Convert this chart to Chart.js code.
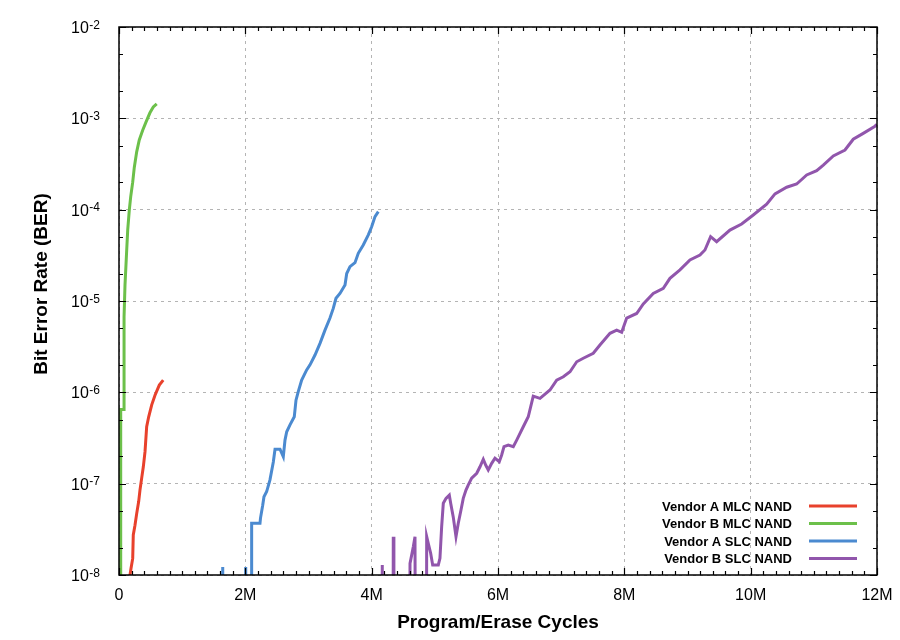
<!DOCTYPE html>
<html>
<head>
<meta charset="utf-8">
<script src="https://cdn.jsdelivr.net/npm/chart.js@4.4.0/dist/chart.umd.min.js"></script>
<style>
  html, body { margin: 0; padding: 0; background: #fff; }
</style>
</head>
<body>
<canvas id="grafico" width="900" height="640"></canvas>
<script>
const seriesNames = ['Vendor A MLC NAND', 'Vendor B MLC NAND', 'Vendor A SLC NAND', 'Vendor B SLC NAND'];
const seriesColors = ['#e8412c', '#6cc04a', '#4b8ad0', '#9156ac'];

// x = P/E cycles in millions, y = BER; 1e-12 means below the plotted range
const mlcAX = [0.17, 0.174, 0.19, 0.217, 0.226, 0.253, 0.28, 0.312, 0.332, 0.359, 0.385, 0.412, 0.438, 0.47, 0.518, 0.57, 0.638, 0.70];
const mlcAY = [1e-12, 1.0e-8, 1.18e-8, 1.52e-8, 2.74e-8, 3.5e-8, 4.7e-8, 6.4e-8, 8.5e-8, 1.15e-7, 1.53e-7, 2.24e-7, 4.2e-7, 5.4e-7, 7.3e-7, 9.3e-7, 1.2e-6, 1.36e-6];

const mlcBX = [0.027, 0.027, 0.08, 0.08, 0.095, 0.12, 0.138, 0.163, 0.185, 0.217, 0.242, 0.28, 0.321, 0.375, 0.427, 0.49, 0.543, 0.597];
const mlcBY = [1e-12, 6.5e-7, 6.5e-7, 6.7e-6, 1.5e-5, 3.4e-5, 6e-5, 9.9e-5, 1.38e-4, 2.0e-4, 2.9e-4, 4.3e-4, 5.8e-4, 7.4e-4, 9.1e-4, 1.15e-3, 1.33e-3, 1.44e-3];

const slcAX = [1.63, 1.642, 1.655, 1.995, 2.006, 2.018, 2.095, 2.10, 2.232, 2.24, 2.275, 2.295, 2.338, 2.39, 2.443, 2.47,
  2.549, 2.601, 2.628, 2.655, 2.707, 2.775, 2.802, 2.838, 2.892, 2.971, 3.024, 3.103, 3.182, 3.261, 3.34,
  3.392, 3.435, 3.498, 3.578, 3.605, 3.657, 3.736, 3.788, 3.867, 3.947, 4.0, 4.053, 4.105];
const slcAY = [1e-12, 1.22e-8, 1e-12, 1e-12, 1.22e-8, 1e-12, 1e-12, 3.68e-8, 3.68e-8, 4.2e-8, 5.8e-8, 7.2e-8, 8.2e-8, 1.1e-7, 1.73e-7, 2.38e-7,
  2.38e-7, 1.97e-7, 3.0e-7, 3.7e-7, 4.4e-7, 5.4e-7, 8.2e-7, 1.02e-6, 1.36e-6, 1.76e-6, 2.0e-6, 2.56e-6, 3.44e-6, 4.8e-6, 6.5e-6,
  8.3e-6, 1.07e-5, 1.21e-5, 1.5e-5, 2.0e-5, 2.38e-5, 2.63e-5, 3.33e-5, 4.1e-5, 5.3e-5, 6.5e-5, 8.4e-5, 9.5e-5];

const slcBX = [4.155, 4.168, 4.18, 4.332, 4.342, 4.352, 4.595, 4.607, 4.634, 4.659,
  4.686, 4.702, 4.86, 4.871, 4.896, 4.934, 4.966, 5.055, 5.081, 5.108,
  5.134, 5.177, 5.229, 5.251, 5.292, 5.335, 5.371, 5.414, 5.45, 5.493,
  5.53, 5.583, 5.663, 5.715, 5.767, 5.805, 5.846, 5.9, 5.952, 6.02,
  6.058, 6.095, 6.163, 6.242, 6.296, 6.4, 6.479, 6.558, 6.665, 6.823,
  6.929, 7.034, 7.14, 7.246, 7.35, 7.508, 7.614, 7.773, 7.879, 7.958,
  8.037, 8.195, 8.3, 8.458, 8.617, 8.722, 8.881, 9.039, 9.197, 9.276,
  9.366, 9.461, 9.672, 9.857, 10.041, 10.253, 10.385, 10.57, 10.728, 10.887,
  11.045, 11.15, 11.308, 11.493, 11.624, 11.782, 11.968, 12.0];
const slcBY = [1e-12, 1.29e-8, 1e-12, 1e-12, 2.63e-8, 1e-12, 1e-12, 1.34e-8, 1.66e-8, 2.04e-8,
  2.63e-8, 1e-12, 1e-12, 2.63e-8, 2.22e-8, 1.73e-8, 1.29e-8, 1.29e-8, 1.52e-8, 3.38e-8,
  6.1e-8, 6.9e-8, 7.5e-8, 6.1e-8, 4.3e-8, 2.63e-8, 3.68e-8, 5.15e-8, 6.9e-8, 8.5e-8,
  9.7e-8, 1.15e-7, 1.3e-7, 1.53e-7, 1.85e-7, 1.6e-7, 1.41e-7, 1.67e-7, 1.9e-7, 1.74e-7,
  2.06e-7, 2.54e-7, 2.65e-7, 2.54e-7, 3.0e-7, 4.2e-7, 5.4e-7, 9.1e-7, 8.6e-7, 1.06e-6,
  1.36e-6, 1.48e-6, 1.68e-6, 2.16e-6, 2.36e-6, 2.68e-6, 3.3e-6, 4.43e-6, 4.8e-6, 4.54e-6,
  6.5e-6, 7.3e-6, 9.3e-6, 1.21e-5, 1.38e-5, 1.77e-5, 2.19e-5, 2.81e-5, 3.19e-5, 3.62e-5,
  5.06e-5, 4.46e-5, 5.98e-5, 6.97e-5, 8.75e-5, 1.15e-4, 1.49e-4, 1.76e-4, 1.91e-4, 2.4e-4,
  2.67e-4, 3.08e-4, 3.87e-4, 4.5e-4, 5.9e-4, 6.85e-4, 8.2e-4, 8.6e-4];

const xTickValues = [0, 2, 4, 6, 8, 10, 12];
const xTickLabels = ['0', '2M', '4M', '6M', '8M', '10M', '12M'];
const yTickValues = [1e-8, 1e-7, 1e-6, 1e-5, 1e-4, 1e-3, 1e-2];
const yTickBase = '10';
const yTickExps = ['-8', '-7', '-6', '-5', '-4', '-3', '-2'];
const xMinorStep = 0.2;
const yMinorMult = [2, 5];
const yTitle = 'Bit Error Rate (BER)';

const FONT = "'Liberation Sans', Arial, sans-serif";

function toPoints(xs, ys) {
  return xs.map((x, i) => ({ x: x, y: ys[i] }));
}

// gnuplot style frame with inward ticks on all four sides, 10^n labels, y title and the legend inside the plot
const frameAndLegend = {
  id: 'frameAndLegend',
  afterDatasetsDraw(chart) {
    const ctx = chart.ctx;
    const area = chart.chartArea;
    const xs = chart.scales.x;
    const ys = chart.scales.y;
    ctx.save();
    ctx.strokeStyle = '#000';
    ctx.lineWidth = 1.2;
    ctx.beginPath();
    for (let v = 0; v <= 12.0001; v += xMinorStep) {
      const px = Math.round(xs.getPixelForValue(v)) + 0.5;
      const major = Math.abs(v / 2 - Math.round(v / 2)) < 1e-6;
      const len = major ? 7 : 4;
      ctx.moveTo(px, area.bottom); ctx.lineTo(px, area.bottom - len);
      ctx.moveTo(px, area.top); ctx.lineTo(px, area.top + len);
    }
    yTickValues.forEach((v, i) => {
      const marks = [{ val: v, len: 7 }];
      if (i < yTickValues.length - 1) yMinorMult.forEach(m => marks.push({ val: v * m, len: 4 }));
      marks.forEach(t => {
        const py = Math.round(ys.getPixelForValue(t.val)) + 0.5;
        ctx.moveTo(area.left, py); ctx.lineTo(area.left + t.len, py);
        ctx.moveTo(area.right, py); ctx.lineTo(area.right - t.len, py);
      });
    });
    ctx.stroke();
    ctx.lineWidth = 1.5;
    ctx.strokeRect(area.left, area.top, area.right - area.left, area.bottom - area.top);

    // y labels: 10 with a raised exponent
    ctx.fillStyle = '#000';
    ctx.textAlign = 'right';
    ctx.textBaseline = 'alphabetic';
    yTickValues.forEach((v, i) => {
      const py = ys.getPixelForValue(v);
      const right = area.left - 19;
      ctx.font = '12px ' + FONT;
      const w = ctx.measureText(yTickExps[i]).width;
      ctx.fillText(yTickExps[i], right, py + 1.5);
      ctx.font = '16px ' + FONT;
      ctx.fillText(yTickBase, right - w - 0.5, py + 6);
    });

    // y title, sits a little above the middle of the axis as in the original
    ctx.save();
    ctx.translate(42, (area.top + area.bottom) / 2 - 17);
    ctx.rotate(-Math.PI / 2);
    ctx.textAlign = 'center';
    ctx.textBaseline = 'middle';
    ctx.font = 'bold 19px ' + FONT;
    ctx.fillText(yTitle, 0, 0);
    ctx.restore();

    // legend
    ctx.font = 'bold 13px ' + FONT;
    ctx.textAlign = 'right';
    ctx.textBaseline = 'middle';
    const n = chart.data.datasets.length;
    chart.data.datasets.forEach((ds, i) => {
      const y = area.bottom - 16.5 - 17.5 * (n - 1 - i);
      ctx.fillStyle = '#000';
      ctx.fillText(ds.label, area.right - 85, y + 1);
      ctx.strokeStyle = ds.borderColor;
      ctx.lineWidth = 3;
      ctx.beginPath();
      ctx.moveTo(area.right - 68, y);
      ctx.lineTo(area.right - 20, y);
      ctx.stroke();
    });
    ctx.restore();
  }
};

const allX = [mlcAX, mlcBX, slcAX, slcBX];
const allY = [mlcAY, mlcBY, slcAY, slcBY];

new Chart(document.getElementById('grafico'), {
  type: 'line',
  data: {
    datasets: seriesNames.map((name, i) => ({
      label: name,
      data: toPoints(allX[i], allY[i]),
      borderColor: seriesColors[i],
      backgroundColor: seriesColors[i],
      borderWidth: 3,
      pointRadius: 0,
      tension: 0,
      fill: false
    }))
  },
  options: {
    responsive: false,
    animation: false,
    devicePixelRatio: 1,
    layout: { padding: { top: 27, right: 23, left: 0, bottom: 0 } },
    plugins: {
      legend: { display: false },
      tooltip: { enabled: false }
    },
    scales: {
      x: {
        type: 'linear',
        min: 0,
        max: 12,
        afterFit: (scale) => {
          scale.height = 65;
          scale.paddingLeft = 0;
          scale.paddingRight = 0;
        },
        afterBuildTicks: (scale) => { scale.ticks = xTickValues.map(v => ({ value: v })); },
        ticks: {
          padding: 11,
          color: '#000',
          font: { family: FONT, size: 16 },
          maxRotation: 0,
          callback: (value, index) => xTickLabels[index]
        },
        grid: { color: '#b4b4b4', lineWidth: 1, drawTicks: false },
        border: { display: false, dash: [3, 4] },
        title: {
          display: true,
          text: 'Program/Erase Cycles',
          color: '#000',
          font: { family: FONT, size: 19, weight: 'bold' },
          padding: { top: 0, bottom: 6 }
        }
      },
      y: {
        type: 'logarithmic',
        min: 1e-8,
        max: 1e-2,
        afterFit: (scale) => { scale.width = 119; },
        afterBuildTicks: (scale) => { scale.ticks = yTickValues.map(v => ({ value: v })); },
        ticks: { display: false },
        grid: { color: '#b4b4b4', lineWidth: 1, drawTicks: false },
        border: { display: false, dash: [3, 4] },
        title: { display: false }
      }
    }
  },
  plugins: [frameAndLegend]
});
</script>
</body>
</html>
